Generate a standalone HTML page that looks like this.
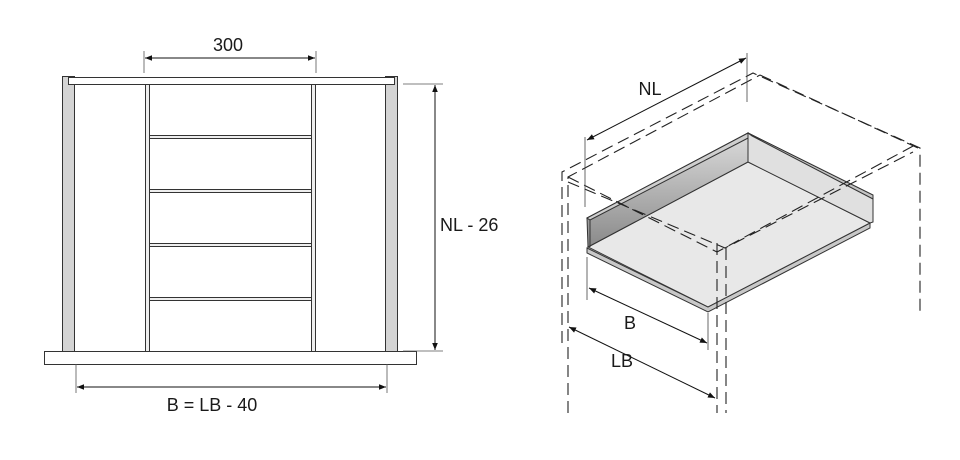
<!DOCTYPE html>
<html><head><style>html,body{margin:0;padding:0;background:#fff;}svg{display:block;}text{font-family:"Liberation Sans","DejaVu Sans",sans-serif;font-size:18px;fill:#1a1a1a;}</style></head>
<body>
<svg width="960" height="460" viewBox="0 0 960 460" xmlns="http://www.w3.org/2000/svg">
<defs>
<marker id="a" viewBox="0 0 10 10" refX="10" refY="5" markerWidth="9" markerHeight="7" orient="auto-start-reverse" markerUnits="userSpaceOnUse"><path d="M0,1 L10,5 L0,9 z" fill="#111"/></marker>
<linearGradient id="g" x1="0" y1="0" x2="0" y2="1"><stop offset="0" stop-color="#dcdcdc"/><stop offset="1" stop-color="#8a8a8a"/></linearGradient>
</defs>
<g stroke="#333" stroke-width="1">
<rect x="62.5" y="76.5" width="12" height="275" fill="#d4d4d4"/>
<rect x="385.5" y="76.5" width="12" height="275" fill="#d4d4d4"/>
<rect x="68.5" y="77.5" width="326" height="7" fill="#fff"/>
<rect x="44.5" y="351.5" width="372" height="13" fill="#fff"/>
<rect x="145.5" y="84.5" width="4" height="267" fill="#eee"/>
<rect x="311.5" y="84.5" width="4" height="267" fill="#eee"/>
<rect x="149.5" y="135.5" width="162" height="3" fill="#eee"/>
<rect x="149.5" y="189.5" width="162" height="3" fill="#eee"/>
<rect x="149.5" y="243.5" width="162" height="3" fill="#eee"/>
<rect x="149.5" y="297.5" width="162" height="3" fill="#eee"/>
</g>
<g stroke="#555" stroke-width="0.8" fill="none">
<line x1="144" y1="51" x2="144" y2="73"/><line x1="316" y1="51" x2="316" y2="73"/>
<line x1="403" y1="84" x2="443" y2="84"/><line x1="403" y1="351" x2="443" y2="351"/>
<line x1="76" y1="364" x2="76" y2="393"/><line x1="387" y1="364" x2="387" y2="393"/>
</g>
<g stroke="#111" stroke-width="1" fill="none">
<line x1="145" y1="58" x2="315" y2="58" marker-start="url(#a)" marker-end="url(#a)"/>
<line x1="435" y1="85" x2="435" y2="350" marker-start="url(#a)" marker-end="url(#a)"/>
<line x1="77" y1="387" x2="386" y2="387" marker-start="url(#a)" marker-end="url(#a)"/>
</g>
<text x="228" y="51" text-anchor="middle">300</text>
<text x="440" y="231">NL - 26</text>
<text x="212" y="411" text-anchor="middle">B = LB - 40</text>

<g stroke="#333" stroke-width="1">
<polygon points="587,248 708,307 870,223 870,228 708,312 587,253" fill="#c8c8c8"/>
<polygon points="588,247 748,162 870,223 708,307" fill="#e8e8e8"/>
<polygon points="587,218 748,133 748,162 588,247" fill="url(#g)"/>
<polygon points="587,218 748,133 752,136 590,220" fill="#cfcfcf"/>
<polygon points="748,133 873,195 873,222 870,223 748,162" fill="#e0e0e0"/>
<polygon points="748,133 873,195 873,199 752,136" fill="#c4c4c4"/>
<line x1="590" y1="220" x2="590" y2="247"/>
</g>
<g stroke="#222" stroke-width="1.1" fill="none" stroke-dasharray="12,6">
<polyline points="562,343 562,172 753,73 920,148 920,313"/>
<polyline points="568,413 568,177 760,75"/>
<polyline points="568,177 717,252 915,145"/>
<polyline points="568,182 725,248 913,152"/>
<line x1="717" y1="243" x2="717" y2="413"/>
<line x1="726" y1="248" x2="726" y2="413"/>
<line x1="760" y1="75" x2="918" y2="148"/>
</g>
<g stroke="#444" stroke-width="0.8">
<line x1="585" y1="137" x2="585" y2="207"/><line x1="747" y1="53" x2="747" y2="102"/>
<line x1="587" y1="257" x2="587" y2="300"/><line x1="708" y1="313" x2="708" y2="350"/>
</g>
<g stroke="#111" stroke-width="1" fill="none">
<line x1="587" y1="140" x2="746" y2="58" marker-start="url(#a)" marker-end="url(#a)"/>
<line x1="589" y1="288" x2="707" y2="343" marker-start="url(#a)" marker-end="url(#a)"/>
<line x1="569" y1="327" x2="715" y2="398" marker-start="url(#a)" marker-end="url(#a)"/>
</g>
<text x="650" y="95" text-anchor="middle">NL</text>
<text x="630" y="329" text-anchor="middle">B</text>
<text x="622" y="367" text-anchor="middle">LB</text>
</svg>
</body></html>
